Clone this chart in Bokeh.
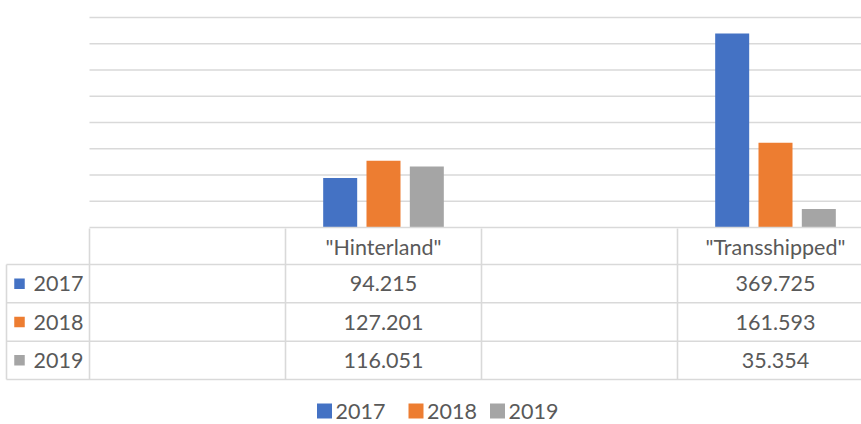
from bokeh.plotting import figure
from bokeh.models import Range1d
from bokeh.core.properties import value
from bokeh.embed import file_html
from bokeh.resources import INLINE

# ---- data ----
categories = ["", '"Hinterland"', "", '"Transshipped"']
series_names = ["2017", "2018", "2019"]
values_2017 = [None, 94.215, None, 369.725]
values_2018 = [None, 127.201, None, 161.593]
values_2019 = [None, 116.051, None, 35.354]
series_values = [values_2017, values_2018, values_2019]
colors = ["#4472C4", "#ED7D31", "#A5A5A5"]
grid_ticks = [50, 100, 150, 200, 250, 300, 350, 400]
y_max = 400

# ---- layout ----
W, H = 861, 424
col_px = 196.0
x0_px = 89.0
base_px = 227.0
top_px = 17.0
scale = (base_px - top_px) / y_max
x_end = (W - x0_px) / col_px

FONT = value("Lato")
TXT = "#595959"
GRID = "#d9d9d9"
FS = "21.5px"

p = figure(width=W, height=H, output_backend="svg", toolbar_location=None,
           x_range=Range1d(-x0_px / col_px, x_end),
           y_range=Range1d(-(H - base_px) / scale, y_max + top_px / scale),
           x_axis_location=None, y_axis_location=None,
           min_border=0, outline_line_color=None,
           background_fill_color="white", border_fill_color="white")
p.xgrid.visible = False
p.ygrid.visible = False
p.extra_x_ranges = {"px": Range1d(0, W)}
p.extra_y_ranges = {"px": Range1d(H, 0)}

# gridlines
n = len(grid_ticks)
p.segment(x0=[0] * n, x1=[x_end] * n, y0=grid_ticks, y1=grid_ticks,
          line_color=GRID, line_width=1.4)

# bars
offsets = [-0.221, 0.0, 0.221]
bar_w = 0.1735
for j, vals in enumerate(series_values):
    xs = [i + 0.5 + offsets[j] for i, v in enumerate(vals) if v is not None]
    tops = [v for v in vals if v is not None]
    p.vbar(x=xs, top=tops, bottom=0, width=bar_w, fill_color=colors[j],
           line_color=None)

# data table
row_lines = [264, 302.3, 340.7, 379]
p.segment(x0=[0], x1=[x_end], y0=[0], y1=[0], line_color=GRID, line_width=1.6)
p.segment(x0=[6] * len(row_lines), x1=[W] * len(row_lines), y0=row_lines,
          y1=row_lines, line_color=GRID, line_width=1.6,
          x_range_name="px", y_range_name="px")
ncat = len(categories)
p.segment(x0=list(range(ncat)), x1=list(range(ncat)), y0=[228] * ncat,
          y1=[379] * ncat, line_color=GRID, line_width=1.6, y_range_name="px")
p.segment(x0=[6], x1=[6], y0=[264], y1=[379], line_color=GRID, line_width=1.6,
          x_range_name="px", y_range_name="px")

# header
p.text(x=[i + 0.5 for i in range(ncat)], y=[246] * ncat, text=categories,
       text_font=FONT, text_font_size=FS, text_color=TXT, text_align="center",
       text_baseline="middle", y_range_name="px")

row_centers = [(row_lines[k] + row_lines[k + 1]) / 2 for k in range(3)]
for j, vals in enumerate(series_values):
    xs = [i + 0.5 for i, v in enumerate(vals) if v is not None]
    labels = [f"{v:.3f}" for v in vals if v is not None]
    p.text(x=xs, y=[row_centers[j]] * len(xs), text=labels, text_font=FONT,
           text_font_size=FS, text_color=TXT, text_align="center",
           text_baseline="middle", y_range_name="px")
    p.scatter(x=[19], y=[row_centers[j]], marker="square", size=10.5,
              fill_color=colors[j], line_color=None,
              x_range_name="px", y_range_name="px")
    p.text(x=[33], y=[row_centers[j]], text=[series_names[j]], text_font=FONT,
           text_font_size=FS, text_color=TXT, text_align="left",
           text_baseline="middle", x_range_name="px", y_range_name="px")

# legend
leg_sq = [324, 415.5, 497]
leg_y = 410.5
for j, name in enumerate(series_names):
    p.scatter(x=[leg_sq[j]], y=[leg_y], marker="square", size=15,
              fill_color=colors[j], line_color=None,
              x_range_name="px", y_range_name="px")
    p.text(x=[leg_sq[j] + 11], y=[leg_y], text=[name], text_font=FONT,
           text_font_size=FS, text_color=TXT, text_align="left",
           text_baseline="middle", x_range_name="px", y_range_name="px")

open("out.html", "w").write(file_html(p, INLINE))
